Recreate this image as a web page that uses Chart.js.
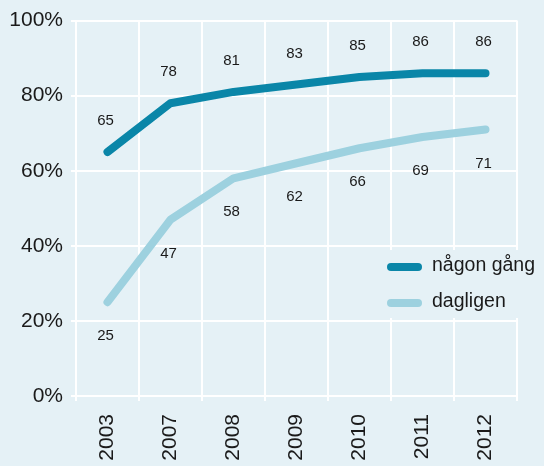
<!DOCTYPE html>
<html>
<head>
<meta charset="utf-8">
<script src="https://cdn.jsdelivr.net/npm/chart.js@4/dist/chart.umd.min.js"></script>
<style>
  html, body { margin: 0; padding: 0; background: #e5f1f6; }
  #c { display: block; }
</style>
</head>
<body>
<canvas id="c" width="544" height="466"></canvas>
<script>
'use strict'

// data
const years = ['2003', '2007', '2008', '2009', '2010', '2011', '2012'];
const nagonGang = [65, 78, 81, 83, 85, 86, 86];
const dagligen = [25, 47, 58, 62, 66, 69, 71];
const seriesNames = ['någon gång', 'dagligen'];
const yTicks = [0, 20, 40, 60, 80, 100];

const darkBlue = '#0a86a8';
const lightBlue = '#9dd1df';
const bg = '#e5f1f6';
const fontFam = '"Liberation Sans", Arial, sans-serif';

// value labels + legend box drawn on the canvas
const labelPlugin = {
  id: 'valueLabels',
  afterDatasetsDraw(chart) {
    const ctx = chart.ctx;
    ctx.save();
    ctx.font = '15px ' + fontFam;
    ctx.fillStyle = '#1a1a1a';
    ctx.textAlign = 'center';
    ctx.textBaseline = 'middle';
    chart.data.datasets.forEach(function (ds, i) {
      const meta = chart.getDatasetMeta(i);
      meta.data.forEach(function (pt, j) {
        let dy = i === 0 ? -31 : 34;
        ctx.fillText(ds.data[j], pt.x - 2, pt.y + dy);
      });
    });

    // legend
    ctx.fillStyle = bg;
    ctx.fillRect(378, 250, 166, 68);
    const rows = [[darkBlue, 267], [lightBlue, 303]];
    ctx.lineCap = 'round';
    ctx.lineWidth = 8;
    ctx.font = '19.5px ' + fontFam;
    ctx.textAlign = 'left';
    rows.forEach(function (r, i) {
      ctx.strokeStyle = r[0];
      ctx.beginPath();
      ctx.moveTo(391, r[1]);
      ctx.lineTo(418, r[1]);
      ctx.stroke();
      ctx.fillStyle = '#1a1a1a';
      ctx.fillText(chart.data.datasets[i].label, 432, r[1] - 1);
    });
    ctx.restore();
  }
};

const ctx = document.getElementById('c').getContext('2d');
new Chart(ctx, {
  type: 'line',
  data: {
    labels: years,
    datasets: [{
      label: seriesNames[0],
      data: nagonGang,
      borderColor: darkBlue,
      borderWidth: 8,
      borderCapStyle: 'round',
      borderJoinStyle: 'round',
      pointRadius: 0,
      tension: 0
    }, {
      label: seriesNames[1],
      data: dagligen,
      borderColor: lightBlue,
      borderWidth: 8,
      borderCapStyle: 'round',
      borderJoinStyle: 'round',
      pointRadius: 0,
      tension: 0
    }]
  },
  options: {
    responsive: false,
    animation: false,
    layout: { padding: { top: 18, right: 27, left: 0, bottom: 0 } },
    plugins: {
      legend: { display: false },
      tooltip: { enabled: false }
    },
    scales: {
      x: {
        offset: true,
        grid: { offset: true, color: '#ffffff', lineWidth: 2, tickLength: 5, drawTicks: true },
        border: { color: '#ffffff', width: 2 },
        ticks: {
          minRotation: 90,
          maxRotation: 90,
          padding: 13,
          color: '#1a1a1a',
          font: { family: fontFam, size: 21 }
        },
        afterFit(scale) { scale.height = 70; }
      },
      y: {
        min: 0,
        max: 100,
        afterBuildTicks(scale) { scale.ticks = yTicks.map(v => ({ value: v })); },
        grid: { color: '#ffffff', lineWidth: 2, tickLength: 5 },
        border: { color: '#ffffff', width: 2 },
        ticks: {
          padding: 8,
          color: '#1a1a1a',
          font: { family: fontFam, size: 21 },
          callback: v => v + '%'
        },
        afterFit(scale) { scale.width = 76; }
      }
    }
  },
  plugins: [labelPlugin]
});
</script>
</body>
</html>
